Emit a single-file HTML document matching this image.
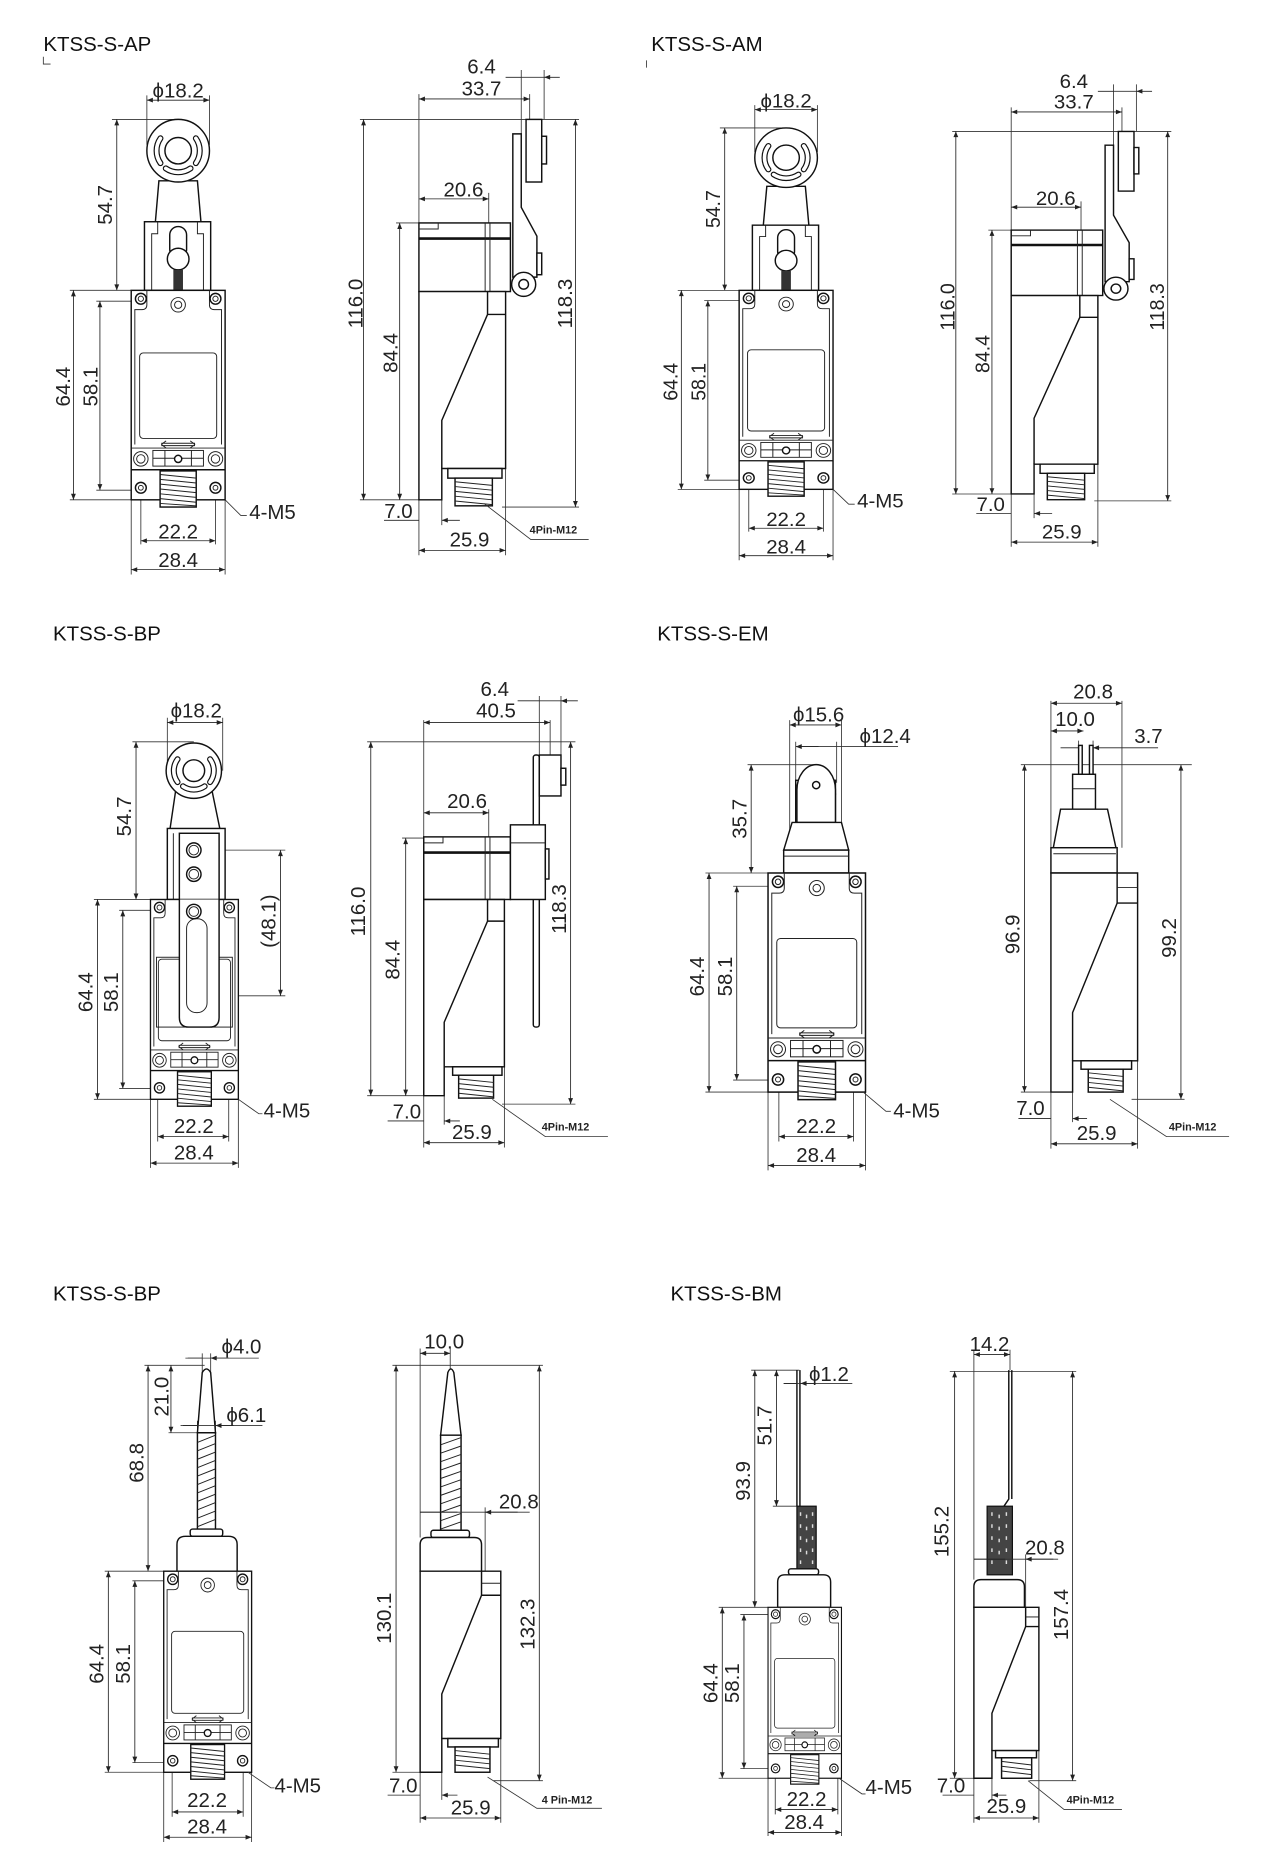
<!DOCTYPE html>
<html><head><meta charset="utf-8"><style>
html,body{margin:0;padding:0;background:#fff;}
svg{display:block;}
.b{fill:none;stroke:#111;stroke-width:1.2}
.w{fill:#fff;stroke:#111;stroke-width:1.2}
.t{fill:none;stroke:#222;stroke-width:.8}
.e{fill:none;stroke:#333;stroke-width:.7}
.d{fill:none;stroke:#222;stroke-width:.7;marker-start:url(#a);marker-end:url(#a)}
.h{fill:none;stroke:#222;stroke-width:.7;marker-end:url(#a)}
text{font-family:"Liberation Sans",Arial,sans-serif;font-size:17px;fill:#222}
.m{text-anchor:middle}
.s{font-size:9px;font-weight:bold}
.ti{font-size:17px;fill:#111}
</style></head><body>
<svg width="1264" height="1876" viewBox="0 0 1050 1558" xmlns="http://www.w3.org/2000/svg">
<defs>
<marker id="a" viewBox="0 0 10 10" refX="10" refY="5" markerWidth="7" markerHeight="5" orient="auto-start-reverse" markerUnits="userSpaceOnUse"><path d="M0,1 L10,5 L0,9z" fill="#222"/></marker>
<g id="FB">
<rect x="0" y="0" width="78" height="174" class="w"/>
<path class="t" d="M3,128 V16 H9 Q13,16 13,12 V0 M75,128 V16 H69 Q65,16 65,12 V0"/>
<circle cx="8" cy="7" r="4.5" class="b"/><circle cx="8" cy="7" r="2.2" class="t"/>
<circle cx="70" cy="7" r="4.5" class="b"/><circle cx="70" cy="7" r="2.2" class="t"/>
<circle cx="39" cy="12" r="6" class="t"/><circle cx="39" cy="12" r="3" class="t"/>
<rect x="7" y="52" width="64" height="71" rx="3" class="t"/>
<path class="t" d="M25,127 H53 M25,129 H53 M25,128 l4,-3 M25,128 l4,3 M53,128 l-4,-3 M53,128 l-4,3"/>
<line x1="0" y1="131" x2="78" y2="131" class="t"/>
<circle cx="8" cy="140" r="6" class="t"/><circle cx="8" cy="140" r="3.5" class="t"/>
<circle cx="70" cy="140" r="6" class="t"/><circle cx="70" cy="140" r="3.5" class="t"/>
<rect x="18" y="133" width="42" height="13" class="t"/>
<path class="t" d="M18,139.5 H60 M28,133 V146 M50,133 V146"/>
<circle cx="39" cy="140" r="3" class="w"/>
<line x1="0" y1="149" x2="78" y2="149" class="b"/>
<circle cx="8" cy="164" r="4.5" class="b"/><circle cx="8" cy="164" r="2" class="t"/>
<circle cx="70" cy="164" r="4.5" class="b"/><circle cx="70" cy="164" r="2" class="t"/>
<rect x="24" y="150" width="30" height="30" class="w"/>
<path class="t" d="M24,153 l30,3 M24,157 l30,3 M24,161 l30,3 M24,165 l30,3 M24,169 l30,3 M24,173 l30,3 M24,177 l30,2"/>
</g>
<g id="A1f">
<path class="e" d="M93,99 H148 M58,241 H109 M58,415 H109 M80,250 H115 M80,407 H115 M122,79 V120 M174,79 V120 M109,415 V477 M187,415 V477 M117,410 V452 M179,410 V452"/>
<polygon points="132,150 164,150 167,185 129,185" class="w"/>
<circle cx="148" cy="125" r="26" class="w"/>
<circle cx="148" cy="125" r="11" class="b"/>
<path d="M133.3,114.7 A18,18 0 0 0 133.3,135.3 M162.7,114.7 A18,18 0 0 1 162.7,135.3 M137.7,139.7 A18,18 0 0 0 158.3,139.7" stroke="#111" stroke-width="5" fill="none" stroke-linecap="round"/>
<path d="M133.3,114.7 A18,18 0 0 0 133.3,135.3 M162.7,114.7 A18,18 0 0 1 162.7,135.3 M137.7,139.7 A18,18 0 0 0 158.3,139.7" stroke="#fff" stroke-width="3" fill="none" stroke-linecap="round"/>
<rect x="120" y="184" width="55" height="57" class="w"/>
<path class="t" d="M126,241 V194 H131 V184 M169,241 V194 H164 V184"/>
<rect x="141" y="188" width="14" height="26" rx="7" class="w"/>
<circle cx="148" cy="215" r="9" class="w"/>
<rect x="144" y="224" width="8" height="17" fill="#333"/>
<use href="#FB" x="109" y="241"/>
<line class="d" x1="122" y1="83" x2="174" y2="83"/>
<line class="d" x1="97" y1="99" x2="97" y2="241"/>
<line class="d" x1="61" y1="241" x2="61" y2="415"/>
<line class="d" x1="83" y1="250" x2="83" y2="407"/>
<line class="d" x1="117" y1="449" x2="179" y2="449"/>
<line class="d" x1="109" y1="473" x2="187" y2="473"/>
<path class="e" d="M187,415 L200,428 H205"/>
</g>
<g id="A1s">
<path class="e" d="M299,99 H481 M329,185 H348 M299,415 H348 M417,421 H481 M348,78 V185 M440,78 V111 M433,58 V111 M452,58 V99 M406,160 V185 M348,415 V461 M420,389 V461 M367,415 V436"/>
<rect x="348" y="185" width="76" height="57" class="w"/>
<line x1="348" y1="198" x2="424" y2="198" stroke="#111" stroke-width="2.2"/>
<path class="t" d="M403,185 V242 M407,185 V242 M348,190 H364 V185"/>
<path class="w" d="M348,242 V415 H367 V389 H420 V242 Z"/>
<path class="b" d="M405,242 V261 L367,349 V389 M405,261 H420"/>
<rect x="372" y="389" width="45" height="8" class="w"/>
<rect x="378" y="397" width="31" height="23" class="w"/>
<path class="t" d="M378,400 l31,3 M378,404 l31,3 M378,408 l31,3 M378,412 l31,3 M378,416 l31,3"/>
<polygon points="426,111 433,111 433,172 446,196 446,230 426,230 426,216" class="w"/>
<rect x="446" y="210" width="4" height="18" class="w"/>
<circle cx="435" cy="236" r="10" class="w"/><circle cx="435" cy="236" r="4" class="b"/>
<rect x="437" y="99" width="13" height="52" class="w"/>
<rect x="450" y="113" width="4" height="23" class="w"/>
<path class="h" d="M420,64 H433 M465,64 H452"/><path class="e" d="M433,64 H452"/>
<line class="d" x1="348" y1="82" x2="440" y2="82"/>
<line class="d" x1="348" y1="165" x2="406" y2="165"/>
<line class="d" x1="302" y1="99" x2="302" y2="415"/>
<line class="d" x1="332" y1="185" x2="332" y2="415"/>
<line class="d" x1="478" y1="99" x2="478" y2="421"/>
<path class="h" d="M319,432 H348 M382,432 H367"/>
<line class="d" x1="348" y1="457" x2="420" y2="457"/>
</g>
</defs>

<!-- Block 1 -->
<text x="36" y="42" class="ti">KTSS-S-AP</text>
<path class="e" d="M36,47 V53 H42"/>
<use href="#A1f"/>
<g>
<text x="148" y="81" class="m">ϕ18.2</text>
<text transform="translate(93,170) rotate(-90)" class="m">54.7</text>
<text transform="translate(58,321) rotate(-90)" class="m">64.4</text>
<text transform="translate(81,321) rotate(-90)" class="m">58.1</text>
<text x="148" y="447" class="m">22.2</text>
<text x="148" y="471" class="m">28.4</text>
<text x="207" y="431">4-M5</text>
</g>
<use href="#A1s"/>
<g>
<text x="400" y="61" class="m">6.4</text>
<text x="400" y="79" class="m">33.7</text>
<text x="385" y="163" class="m">20.6</text>
<text transform="translate(301,252) rotate(-90)" class="m">116.0</text>
<text transform="translate(330,293) rotate(-90)" class="m">84.4</text>
<text transform="translate(475,252) rotate(-90)" class="m">118.3</text>
<text x="331" y="430" class="m">7.0</text>
<text x="390" y="454" class="m">25.9</text>
</g>
<path class="e" d="M402,418 L441,448 H489"/>
<text x="440" y="443" class="s">4Pin-M12</text>

<!-- Block 2 -->
<text x="541" y="42" class="ti">KTSS-S-AM</text>
<path class="e" d="M537,50 V56"/>
<use href="#A1f" transform="translate(505,241) scale(1,0.95) translate(0,-241)"/>
<g transform="translate(505,241) scale(1,0.95) translate(0,-241)">
<text x="148" y="81" class="m">ϕ18.2</text>
<text transform="translate(93,170) rotate(-90)" class="m">54.7</text>
<text transform="translate(58,321) rotate(-90)" class="m">64.4</text>
<text transform="translate(81,321) rotate(-90)" class="m">58.1</text>
<text x="148" y="447" class="m">22.2</text>
<text x="148" y="471" class="m">28.4</text>
<text x="207" y="431">4-M5</text>
</g>
<use href="#A1s" transform="translate(492,109) scale(1,0.953) translate(0,-99)"/>
<g transform="translate(492,109) scale(1,0.953) translate(0,-99)">
<text x="400" y="61" class="m">6.4</text>
<text x="400" y="79" class="m">33.7</text>
<text x="385" y="163" class="m">20.6</text>
<text transform="translate(301,252) rotate(-90)" class="m">116.0</text>
<text transform="translate(330,293) rotate(-90)" class="m">84.4</text>
<text transform="translate(475,252) rotate(-90)" class="m">118.3</text>
<text x="331" y="430" class="m">7.0</text>
<text x="390" y="454" class="m">25.9</text>
</g>

<!-- Block 3: KTSS-S-BP (row 2) -->
<text x="44" y="532" class="ti">KTSS-S-BP</text>
<path class="e" d="M110,616 H161 M78,747 H125 M78,913 H125 M99,756 H130 M99,904 H130 M161,706 H237 M161,827 H237 M139,596 V640 M185,596 V640 M125,913 V970 M198,913 V970 M131,905 V948 M190,905 V948"/>
<polygon points="146,656 176,656 183,690 141,690" class="w"/>
<circle cx="161" cy="640" r="23" class="w"/>
<circle cx="161" cy="640" r="9" class="b"/>
<path d="M147.5,630.5 A16,16 0 0 0 147.5,649.5 M174.5,630.5 A16,16 0 0 1 174.5,649.5 M152,653 A16,16 0 0 0 170,653" stroke="#111" stroke-width="5" fill="none" stroke-linecap="round"/>
<path d="M147.5,630.5 A16,16 0 0 0 147.5,649.5 M174.5,630.5 A16,16 0 0 1 174.5,649.5 M152,653 A16,16 0 0 0 170,653" stroke="#fff" stroke-width="3" fill="none" stroke-linecap="round"/>
<rect x="139" y="688" width="48" height="59" class="w"/>
<path class="t" d="M144,692 V747 M182,692 V747"/>
<use href="#FB" transform="translate(125,747) scale(0.936,0.954)"/>
<rect x="149" y="692" width="33" height="55" class="w"/>
<rect x="130" y="795" width="63" height="58" class="t"/>
<path class="w" d="M149,747 V845 Q149,853 157,853 H174 Q182,853 182,845 V747"/>
<rect x="155" y="763" width="17" height="78" rx="8" class="t"/>
<circle cx="161" cy="706" r="6" class="b"/><circle cx="161" cy="706" r="4" class="t"/>
<circle cx="161" cy="726" r="6" class="b"/><circle cx="161" cy="726" r="4" class="t"/>
<circle cx="161" cy="757" r="6" class="b"/><circle cx="161" cy="757" r="4" class="t"/>
<line class="d" x1="139" y1="600" x2="185" y2="600"/>
<line class="d" x1="113" y1="616" x2="113" y2="747"/>
<line class="d" x1="81" y1="747" x2="81" y2="913"/>
<line class="d" x1="102" y1="756" x2="102" y2="904"/>
<line class="d" x1="233" y1="706" x2="233" y2="827"/>
<line class="d" x1="131" y1="944" x2="190" y2="944"/>
<line class="d" x1="125" y1="966" x2="198" y2="966"/>
<path class="e" d="M198,913 L215,925 H218"/>
<text x="163" y="596" class="m">ϕ18.2</text>
<text transform="translate(109,678) rotate(-90)" class="m">54.7</text>
<text transform="translate(77,824) rotate(-90)" class="m">64.4</text>
<text transform="translate(98,824) rotate(-90)" class="m">58.1</text>
<text transform="translate(229,765) rotate(-90)" class="m">(48.1)</text>
<text x="161" y="941" class="m">22.2</text>
<text x="161" y="963" class="m">28.4</text>
<text x="219" y="928">4-M5</text>

<!-- side BP row2 -->
<path class="e" d="M305,616 H478 M334,696 H352 M305,910 H352 M417,917 H478 M352,598 V695 M457,598 V627 M448,578 V627 M466,578 V627 M406,672 V747 M352,910 V953 M419,886 V953 M369,910 V934"/>
<rect x="352" y="695" width="72" height="52" class="w"/>
<line x1="352" y1="708" x2="424" y2="708" stroke="#111" stroke-width="2.2"/>
<path class="t" d="M403,695 V747 M407,695 V747 M352,700 H368 V695"/>
<path class="w" d="M352,747 V910 H369 V886 H419 V747 Z"/>
<path class="b" d="M405,747 V765 L369,849 V886 M405,765 H419"/>
<rect x="376" y="886" width="41" height="7" class="w"/>
<rect x="381" y="893" width="29" height="19" class="w"/>
<path class="t" d="M381,896 l29,3 M381,900 l29,3 M381,904 l29,3 M381,908 l29,3"/>
<rect x="443" y="627" width="5" height="226" rx="2" class="w"/>
<rect x="424" y="685" width="29" height="62" class="w"/>
<line x1="424" y1="700" x2="453" y2="700" class="t"/>
<rect x="453" y="705" width="3" height="25" class="w"/>
<rect x="448" y="627" width="18" height="34" class="w"/>
<rect x="466" y="638" width="4" height="14" class="w"/>
<path class="h" d="M430,582 H448 M480,582 H466"/><path class="e" d="M448,582 H466"/>
<line class="d" x1="352" y1="600" x2="457" y2="600"/>
<line class="d" x1="352" y1="675" x2="406" y2="675"/>
<line class="d" x1="308" y1="616" x2="308" y2="910"/>
<line class="d" x1="337" y1="696" x2="337" y2="910"/>
<line class="d" x1="474" y1="616" x2="474" y2="917"/>
<path class="h" d="M322,931 H352 M382,931 H369"/>
<line class="d" x1="352" y1="949" x2="419" y2="949"/>
<path class="e" d="M409,913 L453,944 H505"/>
<text x="411" y="578" class="m">6.4</text>
<text x="412" y="596" class="m">40.5</text>
<text x="388" y="671" class="m">20.6</text>
<text transform="translate(303,757) rotate(-90)" class="m">116.0</text>
<text transform="translate(332,797) rotate(-90)" class="m">84.4</text>
<text transform="translate(470,755) rotate(-90)" class="m">118.3</text>
<text x="338" y="929" class="m">7.0</text>
<text x="392" y="946" class="m">25.9</text>
<text x="450" y="939" class="s">4Pin-M12</text>

<!-- Block 4: KTSS-S-EM -->
<text x="546" y="532" class="ti">KTSS-S-EM</text>
<path class="e" d="M621,635 H678 M586,725 H638 M586,907 H638 M609,736 H645 M609,897 H645 M656,598 V690 M699,598 V690 M661,616 V650 M695,616 V650 M638,907 V972 M719,907 V972 M647,900 V948 M709,900 V948"/>
<rect x="661" y="648" width="33" height="35" class="w"/>
<path class="w" d="M662,660 A16,16 0 0 1 694,660"/>
<path class="w" d="M662,656 A16,21 0 0 1 694,656 V683 H662 Z"/>
<circle cx="678" cy="652" r="3" class="b"/>
<polygon points="658,683 699,683 705,706 651,706" class="w"/>
<rect x="651" y="706" width="54" height="19" class="w"/>
<line x1="651" y1="711" x2="705" y2="711" class="t"/>
<use href="#FB" transform="translate(638,725) scale(1.038,1.046)"/>
<line class="d" x1="656" y1="602" x2="699" y2="602"/>
<path class="e" d="M661,620 H746"/><path class="h" d="M680,620 H661"/>
<line class="d" x1="624" y1="635" x2="624" y2="725"/>
<line class="d" x1="589" y1="725" x2="589" y2="907"/>
<line class="d" x1="612" y1="736" x2="612" y2="897"/>
<line class="d" x1="647" y1="944" x2="709" y2="944"/>
<line class="d" x1="638" y1="968" x2="719" y2="968"/>
<path class="e" d="M717,907 L736,923 H740"/>
<text x="680" y="599" class="m">ϕ15.6</text>
<text x="714" y="617">ϕ12.4</text>
<text transform="translate(620,680) rotate(-90)" class="m">35.7</text>
<text transform="translate(585,811) rotate(-90)" class="m">64.4</text>
<text transform="translate(608,811) rotate(-90)" class="m">58.1</text>
<text x="678" y="941" class="m">22.2</text>
<text x="678" y="965" class="m">28.4</text>
<text x="742" y="928">4-M5</text>

<!-- side EM -->
<path class="e" d="M848,635 H990 M848,907 H873 M940,913 H984 M873,582 V704 M932,582 V704 M896,615 V643 M908,615 V643 M873,907 V954 M945,881 V954 M891,907 V932"/>
<rect x="896" y="619" width="3" height="24" class="w"/>
<rect x="905" y="619" width="3" height="24" class="w"/>
<rect x="891" y="643" width="19" height="29" class="w"/>
<line x1="891" y1="655" x2="910" y2="655" class="t"/>
<polygon points="881,672 920,672 927,704 875,704" class="w"/>
<rect x="873" y="704" width="55" height="21" class="w"/>
<line x1="875" y1="709" x2="927" y2="709" class="t"/>
<path class="w" d="M873,725 V907 H891 V881 H945 V725 Z"/>
<path class="b" d="M928,725 V750 L891,841 V881 M928,750 H945"/>
<path class="t" d="M928,737 H945"/>
<rect x="898" y="881" width="42" height="7" class="w"/>
<rect x="904" y="888" width="29" height="19" class="w"/>
<path class="t" d="M904,891 l29,3 M904,895 l29,3 M904,899 l29,3 M904,903 l29,3"/>
<line class="d" x1="873" y1="584" x2="932" y2="584"/>
<line class="d" x1="873" y1="607" x2="900" y2="607"/>
<path class="h" d="M881,621 H896 M962,621 H908"/>
<line class="d" x1="851" y1="635" x2="851" y2="907"/>
<line class="d" x1="981" y1="635" x2="981" y2="913"/>
<path class="h" d="M846,929 H873 M903,929 H891"/>
<line class="d" x1="873" y1="950" x2="945" y2="950"/>
<path class="e" d="M922,913 L969,944 H1021"/>
<text x="908" y="580" class="m">20.8</text>
<text x="893" y="603" class="m">10.0</text>
<text x="954" y="617" class="m">3.7</text>
<text transform="translate(847,776) rotate(-90)" class="m">96.9</text>
<text transform="translate(977,779) rotate(-90)" class="m">99.2</text>
<text x="856" y="926" class="m">7.0</text>
<text x="911" y="947" class="m">25.9</text>
<text x="971" y="939" class="s">4Pin-M12</text>

<!-- Block 5: KTSS-S-BP row3 -->
<text x="44" y="1080" class="ti">KTSS-S-BP</text>
<path class="e" d="M120,1134 H170 M140,1190 H164 M87,1305 H136 M87,1472 H136 M110,1313 H140 M110,1464 H140 M168,1124 V1140 M175,1124 V1140 M164,1180 V1190 M179,1180 V1190 M136,1472 V1530 M209,1472 V1530 M143,1465 V1509 M202,1465 V1509"/>
<path class="w" d="M164,1190 L168,1140 Q171.5,1134 175,1140 L179,1190 Z"/>
<rect x="164" y="1190" width="15" height="82" class="w"/>
<path class="t" d="M164,1198 l15,-6 M164,1205 l15,-6 M164,1212 l15,-6 M164,1219 l15,-6 M164,1226 l15,-6 M164,1233 l15,-6 M164,1240 l15,-6 M164,1247 l15,-6 M164,1254 l15,-6 M164,1261 l15,-6 M164,1268 l15,-6"/>
<rect x="158" y="1270" width="27" height="6" rx="2" class="w"/>
<path class="w" d="M147,1305 V1283 Q147,1276 154,1276 H190 Q197,1276 197,1283 V1305 Z"/>
<use href="#FB" transform="translate(136,1305) scale(0.936,0.96)"/>
<path class="e" d="M154,1128 H215"/><path class="h" d="M156,1128 H168 M190,1128 H175"/>
<path class="e" d="M150,1184 H218"/><path class="h" d="M152,1184 H164 M194,1184 H179"/>
<line class="d" x1="142" y1="1134" x2="142" y2="1190"/>
<line class="d" x1="123" y1="1134" x2="123" y2="1305"/>
<line class="d" x1="90" y1="1305" x2="90" y2="1472"/>
<line class="d" x1="112" y1="1313" x2="112" y2="1464"/>
<line class="d" x1="143" y1="1505" x2="202" y2="1505"/>
<line class="d" x1="136" y1="1526" x2="209" y2="1526"/>
<path class="e" d="M206,1472 L225,1485 H228"/>
<text x="184" y="1124">ϕ4.0</text>
<text transform="translate(140,1160) rotate(-90)" class="m">21.0</text>
<text x="188" y="1181">ϕ6.1</text>
<text transform="translate(119,1215) rotate(-90)" class="m">68.8</text>
<text transform="translate(86,1382) rotate(-90)" class="m">64.4</text>
<text transform="translate(108,1382) rotate(-90)" class="m">58.1</text>
<text x="172" y="1501" class="m">22.2</text>
<text x="172" y="1523" class="m">28.4</text>
<text x="228" y="1489">4-M5</text>

<!-- side BP row3 -->
<path class="e" d="M326,1134 H451 M326,1472 H349 M410,1479 H451 M349,1120 V1277 M374,1120 V1138 M403,1252 V1305 M349,1472 V1514 M416,1444 V1514 M367,1472 V1495"/>
<path class="w" d="M366,1192 L372,1140 Q374.5,1134 377,1140 L383,1192 Z"/>
<rect x="366" y="1192" width="17" height="80" class="w"/>
<path class="t" d="M366,1200 l17,-6 M366,1207 l17,-6 M366,1214 l17,-6 M366,1221 l17,-6 M366,1228 l17,-6 M366,1235 l17,-6 M366,1242 l17,-6 M366,1249 l17,-6 M366,1256 l17,-6 M366,1263 l17,-6 M366,1270 l17,-6"/>
<rect x="358" y="1271" width="32" height="6" rx="2" class="w"/>
<path class="w" d="M349,1305 V1283 Q349,1277 355,1277 H394 Q400,1277 400,1283 V1305 Z"/>
<path class="w" d="M349,1305 V1472 H367 V1444 H416 V1305 Z"/>
<path class="b" d="M400,1305 V1325 L367,1407 V1444 M400,1325 H416"/>
<path class="t" d="M400,1315 H416"/>
<rect x="372" y="1444" width="42" height="7" class="w"/>
<rect x="378" y="1451" width="29" height="21" class="w"/>
<path class="t" d="M378,1454 l29,3 M378,1458 l29,3 M378,1462 l29,3 M378,1466 l29,3"/>
<line class="d" x1="349" y1="1124" x2="374" y2="1124"/>
<line class="d" x1="329" y1="1134" x2="329" y2="1472"/>
<line class="d" x1="448" y1="1134" x2="448" y2="1479"/>
<path class="e" d="M349,1256 H440"/><path class="h" d="M380,1256 H349 M430,1256 H403"/>
<path class="h" d="M322,1491 H349 M380,1491 H367"/>
<line class="d" x1="349" y1="1510" x2="416" y2="1510"/>
<path class="e" d="M405,1476 L446,1502 H500"/>
<text x="369" y="1120" class="m">10.0</text>
<text transform="translate(325,1344) rotate(-90)" class="m">130.1</text>
<text transform="translate(444,1349) rotate(-90)" class="m">132.3</text>
<text x="431" y="1253" class="m">20.8</text>
<text x="335" y="1489" class="m">7.0</text>
<text x="391" y="1507" class="m">25.9</text>
<text x="450" y="1498" class="s">4 Pin-M12</text>

<!-- Block 6: KTSS-S-BM -->
<text x="557" y="1080" class="ti">KTSS-S-BM</text>
<path class="e" d="M624,1138 H664 M642,1251 H663 M597,1335 H638 M597,1477 H638 M615,1341 H645 M615,1469 H645 M638,1477 V1525 M699,1477 V1525 M644,1470 V1507 M696,1470 V1507"/>
<path class="b" d="M662,1138 V1251 M664.5,1138 V1251"/>
<rect x="662" y="1251" width="16" height="53" fill="#444" stroke="#111" stroke-width="1"/>
<path d="M665,1256 v3 M670,1258 v3 M675,1256 v3 M665,1266 v3 M670,1268 v3 M675,1266 v3 M665,1276 v3 M670,1278 v3 M675,1276 v3 M665,1286 v3 M670,1288 v3 M675,1286 v3 M665,1296 v3 M675,1296 v3" stroke="#ddd" stroke-width="1.2"/>
<rect x="655" y="1303" width="25" height="5" rx="2" class="w"/>
<path class="w" d="M646,1335 V1314 Q646,1308 652,1308 H684 Q690,1308 690,1314 V1335 Z"/>
<use href="#FB" transform="translate(638,1335) scale(0.782,0.816)"/>
<path class="e" d="M651,1149 H708"/><path class="h" d="M651,1149 H662 M676,1149 H665"/>
<line class="d" x1="645" y1="1138" x2="645" y2="1251"/>
<line class="d" x1="627" y1="1138" x2="627" y2="1335"/>
<line class="d" x1="600" y1="1335" x2="600" y2="1477"/>
<line class="d" x1="618" y1="1341" x2="618" y2="1469"/>
<line class="d" x1="644" y1="1503" x2="696" y2="1503"/>
<line class="d" x1="638" y1="1522" x2="699" y2="1522"/>
<path class="e" d="M697,1477 L716,1490 H719"/>
<text x="672" y="1147">ϕ1.2</text>
<text transform="translate(641,1184) rotate(-90)" class="m">51.7</text>
<text transform="translate(623,1230) rotate(-90)" class="m">93.9</text>
<text transform="translate(596,1398) rotate(-90)" class="m">64.4</text>
<text transform="translate(614,1398) rotate(-90)" class="m">58.1</text>
<text x="670" y="1500" class="m">22.2</text>
<text x="668" y="1519" class="m">28.4</text>
<text x="719" y="1490">4-M5</text>

<!-- side BM -->
<path class="e" d="M789,1139 H894 M789,1477 H809 M855,1479 H894 M809,1121 V1312 M839,1121 V1138 M852,1291 V1335 M809,1477 V1514 M863,1454 V1514 M824,1477 V1495"/>
<path class="b" d="M838,1138 V1245 L834,1251 M840.5,1138 V1245"/>
<rect x="820" y="1251" width="21" height="57" fill="#444" stroke="#111" stroke-width="1"/>
<path d="M824,1256 v3 M830,1258 v3 M836,1256 v3 M824,1266 v3 M830,1268 v3 M836,1266 v3 M824,1276 v3 M830,1278 v3 M836,1276 v3 M824,1286 v3 M830,1288 v3 M836,1286 v3 M824,1296 v3 M836,1296 v3" stroke="#ddd" stroke-width="1.2"/>
<path class="w" d="M809,1335 V1318 Q809,1312 815,1312 H845 Q851,1312 851,1318 V1335 Z"/>
<path class="w" d="M809,1335 V1477 H824 V1454 H863 V1335 Z"/>
<path class="b" d="M852,1335 V1351 L824,1423 V1454 M852,1351 H863"/>
<path class="t" d="M852,1343 H863"/>
<rect x="827" y="1454" width="34" height="6" class="w"/>
<rect x="832" y="1460" width="25" height="17" class="w"/>
<path class="t" d="M832,1463 l25,3 M832,1467 l25,3 M832,1471 l25,3"/>
<line class="d" x1="809" y1="1125" x2="839" y2="1125"/>
<line class="d" x1="793" y1="1139" x2="793" y2="1477"/>
<line class="d" x1="891" y1="1139" x2="891" y2="1479"/>
<path class="e" d="M809,1295 H879"/><path class="h" d="M835,1295 H809 M875,1295 H852"/>
<path class="h" d="M783,1491 H809 M836,1491 H824"/>
<line class="d" x1="809" y1="1510" x2="863" y2="1510"/>
<path class="e" d="M854,1479 L884,1503 H932"/>
<text x="822" y="1122" class="m">14.2</text>
<text transform="translate(788,1272) rotate(-90)" class="m">155.2</text>
<text transform="translate(887,1341) rotate(-90)" class="m">157.4</text>
<text x="868" y="1291" class="m">20.8</text>
<text x="790" y="1489" class="m">7.0</text>
<text x="836" y="1506" class="m">25.9</text>
<text x="886" y="1498" class="s">4Pin-M12</text>
</svg>
</body></html>
